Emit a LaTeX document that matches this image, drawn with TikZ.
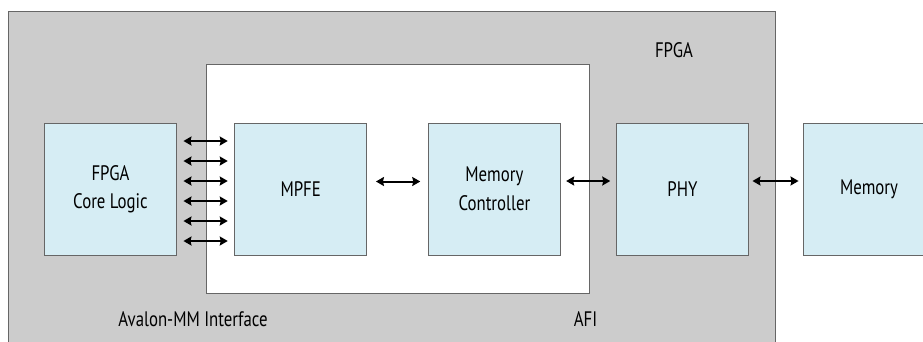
\documentclass[tikz,border=0pt]{standalone}
\usepackage{fontspec}
\setmainfont[FakeStretch=0.8]{PT Sans}
\usetikzlibrary{arrows.meta}
\definecolor{fpgagray}{HTML}{CCCCCC}
\definecolor{boxblue}{HTML}{D6EDF4}
\definecolor{edgegray}{HTML}{666666}
\tikzset{
  blk/.style={draw=edgegray, line width=0.9pt, fill=boxblue, minimum width=132pt, minimum height=132pt, inner sep=0pt, align=center, font=\fontsize{21}{28.5}\selectfont},
  lbl/.style={font=\fontsize{21}{28.5}\selectfont, inner sep=0pt},
  biarrow/.style={line width=2pt, {Stealth[length=8pt,width=9pt,inset=1pt]}-{Stealth[length=8pt,width=9pt,inset=1pt]}},
}
\begin{document}
\begin{tikzpicture}[x=1pt,y=-1pt]
\clip (0,0) rectangle (923,341);
\useasboundingbox (0,0) rectangle (923,341);
\fill[white] (0,0) rectangle (923,341);
\draw[edgegray, line width=0.9pt, fill=fpgagray] (8.8,11) rectangle (775,350);
\draw[edgegray, line width=0.9pt, fill=white] (206.6,64.3) rectangle (589.8,293);
\node[blk] (core) at (110.5,189) {FPGA\\Core Logic};
\node[blk] (mpfe) at (300.7,189) {MPFE};
\node[blk] (mc) at (494.4,189) {Memory\\Controller};
\node[blk] (phy) at (682.5,189) {PHY};
\node[blk] (mem) at (869,189) {Memory};
\node[lbl] (fpga) at (674,50) {FPGA};
\node[lbl] (avalon) at (193,319) {Avalon-MM Interface};
\node[lbl] (afi) at (585.6,319) {AFI};
\foreach \dy in {-48,-28,-8,12,32,52}{
  \draw[biarrow, shorten <=6.5pt, shorten >=6.5pt] ([yshift=-\dy pt]core.east) -- ([yshift=-\dy pt]mpfe.west);
}
\draw[biarrow, shorten <=8.8pt, shorten >=7.7pt] ([yshift=7.5pt]mpfe.east) -- ([yshift=7.5pt]mc.west);
\draw[biarrow, shorten <=5.3pt, shorten >=5.8pt] ([yshift=8pt]mc.east) -- ([yshift=8pt]phy.west);
\draw[biarrow, shorten <=3.5pt, shorten >=4pt] ([yshift=8pt]phy.east) -- ([yshift=8pt]mem.west);
\end{tikzpicture}
\end{document}
